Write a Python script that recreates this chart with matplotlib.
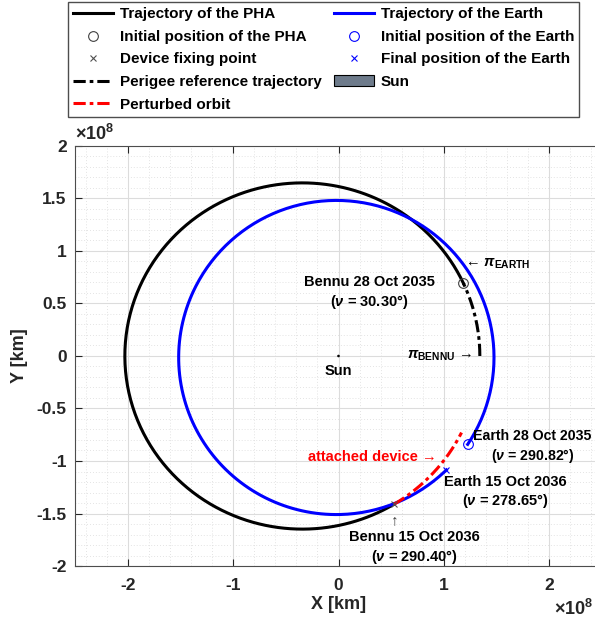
import numpy as np
import matplotlib
matplotlib.use('Agg')
import matplotlib.pyplot as plt
from matplotlib.patches import Circle
from matplotlib.ticker import MultipleLocator

plt.rcParams['font.family'] = ['Liberation Sans', 'DejaVu Sans']
plt.rcParams['font.weight'] = 'bold'
plt.rcParams['mathtext.fontset'] = 'custom'
plt.rcParams['mathtext.rm'] = 'Liberation Sans:bold'
plt.rcParams['mathtext.it'] = 'Liberation Sans:italic:bold'
plt.rcParams['mathtext.bf'] = 'Liberation Sans:bold'

# Elementos orbitais (distâncias em 1e8 km)
bennu_a = 1.684
bennu_e = 0.2037
bennu_peri = 0.0          # perigeu de Bennu no eixo +X
earth_a = 1.496
earth_e = 0.0167
earth_peri = 34.7         # direção de pi_EARTH (graus)

# Anomalias verdadeiras (graus)
bennu_nu_ini = 30.30      # 28 Oct 2035
bennu_nu_fim = 290.40     # 15 Oct 2036 (ponto de fixação)
earth_nu_ini = 290.82     # 28 Oct 2035
earth_nu_fim = 278.65     # 15 Oct 2036
perturbada_nu_fim = 328.0

x_ticks = [-2, -1, 0, 1, 2]
y_ticks = [-2, -1.5, -1, -0.5, 0, 0.5, 1, 1.5, 2]


def orbita(a, e, peri, nu1, nu2, n=400):
    nu = np.radians(np.linspace(nu1, nu2, n))
    r = a * (1 - e**2) / (1 + e * np.cos(nu))
    th = nu + np.radians(peri)
    return r * np.cos(th), r * np.sin(th)


fig = plt.figure(figsize=(5.95, 6.25), dpi=100)
ax = fig.add_axes([75 / 595, 1 - 566 / 625, 527 / 595, 420 / 625])

# Trajetórias
xb, yb = orbita(bennu_a, bennu_e, bennu_peri, bennu_nu_ini, bennu_nu_fim)
h_pha, = ax.plot(xb, yb, color='black', lw=2.2, label='Trajectory of the PHA')

xe, ye = orbita(earth_a, earth_e, earth_peri, earth_nu_ini, earth_nu_fim + 360)
h_earth, = ax.plot(xe, ye, color='#0000ff', lw=2.2, label='Trajectory of the Earth')

dashdot = (0, (4, 1.3, 1.2, 1.3))
xp, yp = orbita(bennu_a, bennu_e, bennu_peri, 0, bennu_nu_ini)
h_per, = ax.plot(xp, yp, color='black', lw=2.2, ls=dashdot, label='Perigee reference trajectory')

xr, yr = orbita(bennu_a, bennu_e, bennu_peri, bennu_nu_fim, perturbada_nu_fim)
h_pert, = ax.plot(xr, yr, color='red', lw=2.2, ls=dashdot, label='Perturbed orbit')

# Posições
x0, y0 = orbita(bennu_a, bennu_e, bennu_peri, bennu_nu_ini, bennu_nu_ini, 1)
h_pha0, = ax.plot(x0, y0, 'o', mfc='none', mec='#404040', ms=7, mew=0.8,
                  ls='none', label='Initial position of the PHA')
xf, yf = orbita(bennu_a, bennu_e, bennu_peri, bennu_nu_fim, bennu_nu_fim, 1)
h_fix, = ax.plot(xf, yf, 'x', color='#505050', ms=5, mew=0.8, ls='none',
                 label='Device fixing point')
xe0, ye0 = orbita(earth_a, earth_e, earth_peri, earth_nu_ini, earth_nu_ini, 1)
h_e0, = ax.plot(xe0, ye0, 'o', mfc='none', mec='#0000ff', ms=7, mew=0.8,
                ls='none', label='Initial position of the Earth')
xe1, ye1 = orbita(earth_a, earth_e, earth_peri, earth_nu_fim, earth_nu_fim, 1)
h_e1, = ax.plot(xe1, ye1, 'x', color='#0000ff', ms=5, mew=0.8, ls='none',
                label='Final position of the Earth')

# Sol
sol = Circle((0, 0), 0.007, facecolor='#6e7b8b', edgecolor='black', lw=0.8,
             label='Sun', zorder=5)
ax.add_patch(sol)

# Anotações
fs = 10.5
ax.text(0, -0.14, 'Sun', ha='center', va='center', fontsize=fs)
ax.text(0.29, 0.60, 'Bennu 28 Oct 2035\n($\\nu$ = 30.30°)', ha='center',
        va='center', fontsize=fs, linespacing=1.3)
ax.text(1.20, 0.88, '← $\\pi_{\\mathrm{EARTH}}$', ha='left', va='center', fontsize=fs)
ax.text(1.27, 0.0, '$\\pi_{\\mathrm{BENNU}}$ →', ha='right', va='center', fontsize=fs)
ax.text(0.93, -0.96, 'attached device →', ha='right', va='center',
        fontsize=fs, color='red')
ax.text(1.84, -0.87, 'Earth 28 Oct 2035\n($\\nu$ = 290.82°)', ha='center',
        va='center', fontsize=10.2, linespacing=1.3)
ax.text(1.58, -1.30, 'Earth 15 Oct 2036\n($\\nu$ = 278.65°)', ha='center',
        va='center', fontsize=fs, linespacing=1.3)
ax.text(0.53, -1.56, '↑', ha='center', va='center', fontsize=11, color='#404040')
ax.text(0.72, -1.83, 'Bennu 15 Oct 2036\n($\\nu$ = 290.40°)', ha='center',
        va='center', fontsize=fs, linespacing=1.3)

# Eixos
ax.set_xlim(-2.5, 2.5)
ax.set_ylim(-2, 2)
ax.set_xticks(x_ticks)
ax.set_xticklabels([f'{v:g}' for v in x_ticks])
ax.set_yticks(y_ticks)
ax.set_yticklabels([f'{v:g}' for v in y_ticks])
ax.xaxis.set_minor_locator(MultipleLocator(0.2))
ax.yaxis.set_minor_locator(MultipleLocator(0.1))
ax.tick_params(which='both', direction='in', top=True, right=True,
               labelsize=12.5, colors='#262626')
ax.tick_params(axis='x', pad=9)
ax.tick_params(axis='y', pad=6)
ax.tick_params(which='major', length=5)
ax.tick_params(which='minor', length=0)
ax.grid(which='major', color='#dcdcdc', lw=0.8)
ax.grid(which='minor', color='#dadada', lw=0.6, ls=(0, (1, 2.5)))
ax.set_axisbelow(True)
for s in ax.spines.values():
    s.set_color('#4d4d4d')
ax.set_xlabel('X [km]', fontsize=13, fontweight='bold', labelpad=2, color='#262626')
ax.set_ylabel('Y [km]', fontsize=13, fontweight='bold', labelpad=6, color='#262626')
ax.text(0.0, 1.005, '×10$^{8}$', transform=ax.transAxes, ha='left',
        va='bottom', fontsize=13, color='#262626')
fig.text(0.998, 0.01, '×10$^{8}$', ha='right', va='bottom', fontsize=13,
         color='#262626')

handles = [h_pha, h_pha0, h_fix, h_per, h_pert, h_earth, h_e0, h_e1, sol]
leg = fig.legend(handles=handles, loc='upper left', ncol=2,
                 bbox_to_anchor=(68 / 595, 1 - 2 / 625), fontsize=11,
                 frameon=True, fancybox=False, edgecolor='#4d4d4d',
                 framealpha=1, handlelength=2.6, handletextpad=0.45,
                 columnspacing=0.8, labelspacing=0.56, borderpad=0.35,
                 borderaxespad=0)
leg.get_frame().set_linewidth(1.0)

fig.savefig('out.png', dpi=100)
